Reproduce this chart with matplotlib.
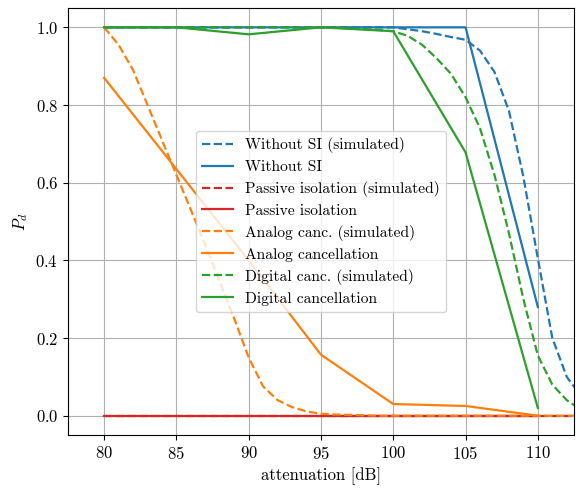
import matplotlib
matplotlib.use("Agg")
from matplotlib import pyplot as plt
import numpy as np

plt.rcParams['font.family'] = 'serif'
plt.rcParams['font.serif'] = ['cmr10']
plt.rcParams['mathtext.fontset'] = 'cm'
plt.rcParams['axes.formatter.use_mathtext'] = True
plt.rcParams['font.size'] = 12

# measured points (every 5 dB)
att = [80, 85, 90, 95, 100, 105, 110]
no_si = [1.0, 1.0, 1.0, 1.0, 1.0, 1.0, 0.28]
passive = [0, 0, 0, 0, 0, 0, 0]
analog = [0.87, 0.635, 0.40, 0.157, 0.03, 0.025, 0.0]
digital = [1.0, 1.0, 0.982, 1.0, 0.99, 0.678, 0.02]

# simulated curves (every 1 dB)
att_sim = list(range(80, 114))
no_si_sim = [1.0] * 21 + [0.995, 0.99, 0.983, 0.975, 0.968, 0.94, 0.885, 0.785,
                          0.615, 0.405, 0.2, 0.1, 0.05]
passive_sim = [0.0] * 34
analog_sim = [1.0, 0.955, 0.89, 0.80, 0.71, 0.62, 0.53, 0.44, 0.345, 0.25, 0.15,
              0.075, 0.04, 0.022, 0.011, 0.005, 0.003, 0.002, 0.001] + [0.0] * 15
digital_sim = [1.0] * 16 + [0.999, 0.997, 0.995, 0.993, 0.99, 0.978, 0.955, 0.92,
                            0.88, 0.82, 0.74, 0.62, 0.47, 0.30, 0.155, 0.08, 0.04, 0.015]

fig = plt.figure(figsize=(5.76, 4.95), dpi=100)
ax = fig.add_subplot(111)
fig.subplots_adjust(left=0.118, right=0.9965, top=0.984, bottom=0.121)

lw = 1.6
ax.plot(att_sim, no_si_sim, '--', color='C0', lw=lw, label='Without SI (simulated)')
ax.plot(att, no_si, '-', color='C0', lw=lw, label='Without SI')
ax.plot(att_sim, passive_sim, '--', color='C3', lw=lw, label='Passive isolation (simulated)')
ax.plot(att, passive, '-', color='C3', lw=lw, label='Passive isolation')
ax.plot(att_sim, analog_sim, '--', color='C1', lw=lw, label='Analog canc. (simulated)')
ax.plot(att, analog, '-', color='C1', lw=lw, label='Analog cancellation')
ax.plot(att_sim, digital_sim, '--', color='C2', lw=lw, label='Digital canc. (simulated)')
ax.plot(att, digital, '-', color='C2', lw=lw, label='Digital cancellation')

ax.set_xlim(77.5, 112.5)
ax.set_ylim(-0.05, 1.05)
ax.set_xticks([80, 85, 90, 95, 100, 105, 110])
ax.set_xlabel('attenuation [dB]')
ax.set_ylabel('$P_d$')
ax.grid(True)
ax.legend(loc='center', fontsize=11.2, labelspacing=0.45)

plt.savefig('out.png', dpi=100)
